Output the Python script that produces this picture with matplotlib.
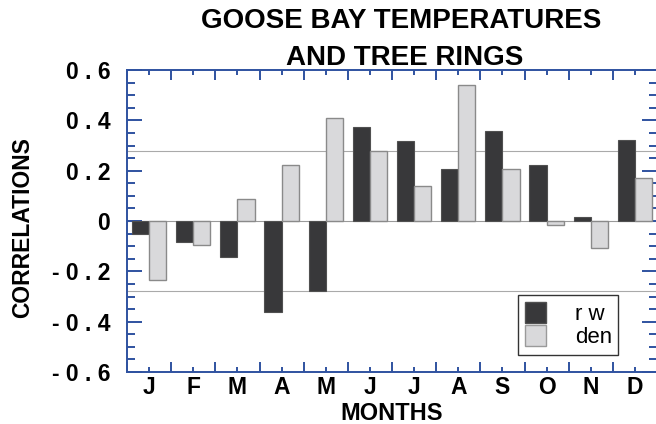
import matplotlib
matplotlib.use("Agg")
import matplotlib.pyplot as plt
from matplotlib.ticker import MultipleLocator, FixedLocator
from matplotlib.patches import Patch
import numpy as np

months = ["J", "F", "M", "A", "M", "J", "J", "A", "S", "O", "N", "D"]
ring_width = [-0.05, -0.085, -0.145, -0.36, -0.28, 0.373, 0.316, 0.208,
              0.356, 0.224, 0.016, 0.323]
density = [-0.233, -0.096, 0.088, 0.224, 0.408, 0.28, 0.138, 0.54,
           0.207, -0.017, -0.109, 0.171]
significance = 0.28
ytick_values = [0.6, 0.4, 0.2, 0.0, -0.2, -0.4, -0.6]
ytick_labels = ["0 . 6", "0 . 4", "0 . 2", "0", "- 0 . 2", "- 0 . 4", "- 0 . 6"]

plt.rcParams['font.family'] = ['Liberation Sans', 'DejaVu Sans']

W, H = 656, 424
fig = plt.figure(figsize=(W / 100, H / 100), dpi=100)
ax = fig.add_axes([127 / W, 1 - 372 / H, 530 / W, 302 / H])

x = np.arange(1, len(months) + 1)
w = 0.39
dark = "#38383a"
light = "#d9d9db"

ax.axhline(0, color="#9a9a9a", lw=0.8, zorder=1)
ax.axhline(significance, color="#aaaaaa", lw=0.8, zorder=1)
ax.axhline(-significance, color="#aaaaaa", lw=0.8, zorder=1)

ax.bar(x - w, ring_width, width=w, align="edge", color=dark,
       edgecolor="#505050", linewidth=0.8, zorder=2)
ax.bar(x, density, width=w, align="edge", color=light,
       edgecolor="#8a8a8a", linewidth=1.0, zorder=2)

ax.set_xlim(0.5, 12.5)
ax.set_ylim(-0.6, 0.6)

blue = "#2f52a0"
for s in ax.spines.values():
    s.set_color(blue)
    s.set_linewidth(1.4)

ax.yaxis.set_major_locator(FixedLocator(ytick_values))
ax.set_yticklabels(ytick_labels, fontsize=16.5, fontweight="bold")
ax.yaxis.set_minor_locator(MultipleLocator(0.05))
ax.xaxis.set_major_locator(FixedLocator(np.arange(0.5, 13, 1.0)))
ax.xaxis.set_minor_locator(FixedLocator(x))
ax.set_xticklabels([""] * 13)
ax.set_xticklabels(months, minor=True, fontsize=16.5, fontweight="bold")

ax.tick_params(axis="both", which="both", direction="in", color=blue,
               top=True, right=True, labelcolor="black", width=1.4)
ax.tick_params(axis="y", which="major", length=10.8, pad=12)
ax.tick_params(axis="y", which="minor", length=5.8)
ax.tick_params(axis="x", which="major", length=7.2)
ax.tick_params(axis="x", which="minor", length=3.6, pad=3)

ax.set_ylabel("CORRELATIONS", fontsize=16.5, fontweight="bold")
ax.yaxis.label.set_va("center")
ax.yaxis.set_label_coords(-0.196, 0.477)
ax.set_xlabel("MONTHS", fontsize=17, fontweight="bold")
ax.xaxis.label.set_va("baseline")
ax.xaxis.set_label_coords(0.5, -0.159)

fig.text(401 / W, 1 - 28.5 / H, "GOOSE BAY TEMPERATURES", ha="center",
         va="baseline", fontsize=20, fontweight="bold")
fig.text(405 / W, 1 - 65 / H, "AND TREE RINGS", ha="center",
         va="baseline", fontsize=20, fontweight="bold")

handles = [Patch(facecolor=dark, edgecolor="#505050", label="r w"),
           Patch(facecolor=light, edgecolor="#9a9a9a", label="den")]
leg = ax.legend(handles=handles, loc="upper left",
                bbox_to_anchor=(518 / W, 1 - 295 / H),
                bbox_transform=fig.transFigure, borderaxespad=0,
                prop={"size": 16}, frameon=True, fancybox=False,
                edgecolor="#333333", framealpha=1,
                handlelength=0.95, handleheight=1.1, handletextpad=1.3,
                labelspacing=0.0, borderpad=0.3)
leg.get_frame().set_linewidth(1.0)

fig.savefig("out.png", dpi=100)
